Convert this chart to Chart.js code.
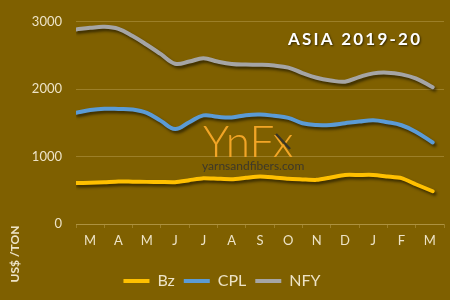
<!DOCTYPE html>
<html><head><meta charset="utf-8">
<script src="https://cdn.jsdelivr.net/npm/chart.js@4.4.1/dist/chart.umd.min.js"></script>
<style>html,body{margin:0;padding:0;background:#7F6000;overflow:hidden;}</style>
</head><body>
<canvas id="c" width="450" height="300"></canvas>
<script>
// Category (month) labels
const months = ['M','A','M','J','J','A','S','O','N','D','J','F','M'];
// Sample positions along the month axis (in months from start)
const samplePos = [0,0.5,1,1.5,2,2.5,3,3.5,4,4.5,5,5.5,6,6.5,7,7.5,8,8.5,9,9.5,10,10.5,11,11.5,12,12.6];
// Series values (US$ /TON)
const bz  = [607,612,620,632,628,625,623,621,650,680,672,665,685,705,690,670,662,655,690,728,728,728,705,680,590,486];
const cpl = [1651,1690,1710,1708,1700,1650,1530,1410,1510,1612,1590,1580,1615,1625,1605,1575,1495,1468,1470,1495,1520,1540,1510,1465,1370,1210];
const nfy = [2886,2910,2925,2895,2790,2660,2520,2378,2410,2458,2410,2375,2365,2362,2350,2320,2240,2170,2130,2111,2180,2235,2245,2220,2160,2030];
const yTicks = [0,1000,2000,3000];

const BG = '#7F6000';
const GRID = 'rgba(200,175,100,0.4)';
const TXT = '#EDE3C6';

const toPts = arr => arr.map((v,i)=>({x:samplePos[i], y:v}));

const deco = {
  id:'deco',
  beforeDraw(chart){
    const ctx = chart.ctx;
    ctx.save(); ctx.fillStyle = BG; ctx.fillRect(0,0,chart.width,chart.height); ctx.restore();
  },
  beforeDatasetsDraw(chart){
    const ctx = chart.ctx;
    ctx.save();
    ctx.font = '300 44px Lato';
    ctx.fillStyle = '#F2A526';
    ctx.textBaseline = 'alphabetic';
    ctx.textAlign = 'left';
    ctx.fillText('YnFx', 203, 157);
    ctx.strokeStyle = '#3a3526';
    ctx.lineWidth = 2.5;
    ctx.beginPath(); ctx.moveTo(276,134); ctx.lineTo(290,149); ctx.stroke();
    ctx.font = '12px Lato';
    ctx.fillStyle = '#3d3829';
    ctx.textBaseline = 'middle';
    ctx.fillText('yarnsandfibers.com', 202, 166);
    ctx.restore();
    ctx.save();
    ctx.shadowColor = 'rgba(0,0,0,0.55)';
    ctx.shadowBlur = 3;
    ctx.shadowOffsetX = 2;
    ctx.shadowOffsetY = 2.5;
  },
  afterDatasetsDraw(chart){
    const ctx = chart.ctx;
    ctx.restore();
    ctx.save();
    ctx.font = 'bold 17px Lato';
    const txt = 'ASIA 2019-20';
    const w = ctx.measureText(txt).width;
    if ('letterSpacing' in ctx) ctx.letterSpacing = Math.max(0,(132-w)/11) + 'px';
    ctx.fillStyle = '#FFFFFF';
    ctx.shadowColor = 'rgba(0,0,0,0.6)';
    ctx.shadowBlur = 2; ctx.shadowOffsetX = 1; ctx.shadowOffsetY = 1;
    ctx.textBaseline = 'middle'; ctx.textAlign = 'left';
    ctx.fillText(txt, 288, 40);
    ctx.restore();
    ctx.save();
    ctx.translate(15, 254);
    ctx.rotate(-Math.PI/2);
    ctx.font = 'bold 12px Lato';
    ctx.fillStyle = TXT;
    ctx.textAlign = 'center'; ctx.textBaseline = 'middle';
    ctx.fillText('US$ /TON', 0, 0);
    ctx.restore();
  }
};

const ds = (label, data, color, tension) => ({
  label, data: toPts(data), borderColor: color, backgroundColor: color,
  borderWidth: 4, pointRadius: 0, tension, fill: false,
  borderCapStyle: 'round', borderJoinStyle: 'round'
});

new Chart(document.getElementById('c'), {
  type: 'line',
  data: {
    datasets: [
      ds('Bz', bz, '#FFC000', 0.2),
      ds('CPL', cpl, '#5B9BD5', 0.4),
      ds('NFY', nfy, '#A5A5A5', 0.4)
    ]
  },
  options: {
    responsive: false,
    animation: false,
    layout: { padding: { left: 0, right: 6, top: 20, bottom: 1 } },
    plugins: {
      tooltip: { enabled: false },
      title: { display: false },
      legend: {
        position: 'bottom',
        labels: {
          color: TXT, font: { family: 'Lato', size: 16 },
          boxWidth: 26, boxHeight: 4, padding: 9,
          generateLabels: chart => {
            const items = Chart.defaults.plugins.legend.labels.generateLabels(chart);
            items.forEach(it => { it.lineWidth = 0; it.strokeStyle = 'rgba(0,0,0,0)'; });
            return items;
          }
        }
      }
    },
    scales: {
      x: {
        type: 'linear', min: 0, max: months.length,
        afterBuildTicks: s => { const t=[]; for (let i=0;i<=months.length*2;i++) t.push({value:i/2}); s.ticks = t; },
        ticks: {
          autoSkip: false, maxRotation: 0, color: TXT, padding: 5,
          font: { family: 'Lato', size: 13 },
          callback: v => (Math.abs(v % 1 - 0.5) < 1e-6) ? months[Math.floor(v)] : ''
        },
        grid: {
          drawOnChartArea: false, tickLength: 4, lineWidth: 1,
          color: c => (c.tick && Math.abs(c.tick.value % 1) < 1e-6) ? GRID : 'rgba(0,0,0,0)'
        },
        border: { color: GRID, width: 1 },
        afterFit: s => { s.height = 40; }
      },
      y: {
        min: 0, max: 3000,
        afterBuildTicks: s => { s.ticks = yTicks.map(v=>({value:v})); },
        ticks: { color: TXT, padding: 14, font: { family: 'Lato', size: 13 }, callback: v => String(v) },
        grid: { color: GRID, drawTicks: false, lineWidth: 1 },
        border: { display: false },
        afterFit: s => { s.width = 76; }
      }
    }
  },
  plugins: [deco]
});
</script>
</body></html>
